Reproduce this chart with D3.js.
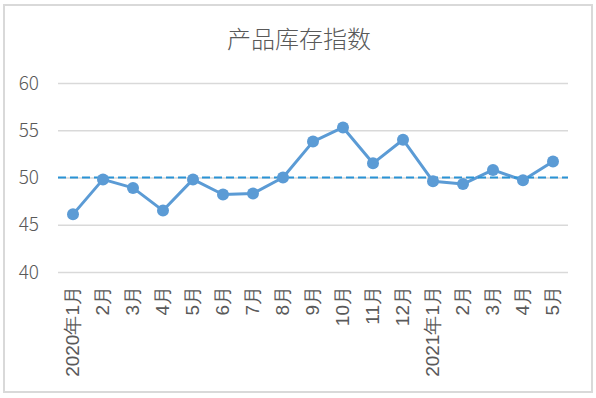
<!DOCTYPE html>
<html><head><meta charset="utf-8">
<script src="https://cdn.jsdelivr.net/npm/d3@7"></script>
<style>
html,body{margin:0;padding:0;background:#fff;}
svg{display:block;font-family:"Noto Sans CJK SC","Noto Sans",sans-serif;}
</style></head>
<body>
<svg id="chart" width="596" height="398"></svg>
<script>
const title = "产品库存指数";
const categories = ["2020年1月","2月","3月","4月","5月","6月","7月","8月","9月","10月","11月","12月","2021年1月","2月","3月","4月","5月"];
const values = [46.1,49.8,48.9,46.5,49.8,48.2,48.3,50.0,53.8,55.3,51.5,54.0,49.6,49.3,50.8,49.7,51.7];
const yTicks = [40,45,50,55,60];
const refValue = 50;

const svg = d3.select("#chart");
const W = 596, H = 398;
const m = {left:58, right:28, top:83, bottom:126};

svg.append("rect").attr("x",4).attr("y",5).attr("width",588).attr("height",387)
  .attr("fill","#fff").attr("stroke","#d9d9d9").attr("stroke-width",2);

svg.append("text").attr("x",299).attr("y",48).attr("text-anchor","middle")
  .attr("font-size",24).attr("font-weight",300).attr("fill","#595959").text(title);

const x = d3.scaleBand().domain(categories.map((d,i)=>i)).range([m.left, W-m.right]);
const y = d3.scaleLinear().domain([40,60]).range([H-m.bottom, m.top]);

// gridlines
const yAxis = svg.append("g").attr("transform",`translate(${m.left},0)`)
  .call(d3.axisLeft(y).tickValues(yTicks).tickSize(-(W-m.left-m.right)).tickPadding(19));
yAxis.select(".domain").remove();
yAxis.selectAll(".tick line").attr("stroke","#d9d9d9").attr("stroke-width",1.5);
yAxis.selectAll(".tick text").attr("font-size",19).attr("fill","#595959")
  .attr("font-family","'Noto Sans CJK SC','Noto Sans',sans-serif").attr("font-weight",300);

// x axis labels
const xAxis = svg.append("g").attr("transform",`translate(0,${H-m.bottom})`)
  .call(d3.axisBottom(x).tickFormat(i=>categories[i]).tickSize(0));
xAxis.select(".domain").remove();
xAxis.selectAll(".tick text")
  .attr("font-size",19).attr("font-weight",300).attr("fill","#595959")
  .attr("text-anchor","end")
  .attr("transform","rotate(-90)")
  .attr("x",-14).attr("y",-1).attr("dy","0.35em");

// series line
const line = d3.line().x((d,i)=>x(i)+x.bandwidth()/2).y(d=>y(d));
svg.append("path").datum(values).attr("d",line).attr("fill","none")
  .attr("stroke","#5b9bd5").attr("stroke-width",3).attr("stroke-linejoin","round");

// reference dashed line
svg.append("line").attr("x1",m.left).attr("x2",W-m.right)
  .attr("y1",y(refValue)).attr("y2",y(refValue))
  .attr("stroke","#2a93d5").attr("stroke-width",2).attr("stroke-dasharray","8,4");

svg.append("g").selectAll("circle").data(values).join("circle")
  .attr("cx",(d,i)=>x(i)+x.bandwidth()/2).attr("cy",d=>y(d)).attr("r",6)
  .attr("fill","#5b9bd5");
</script>
</body></html>
